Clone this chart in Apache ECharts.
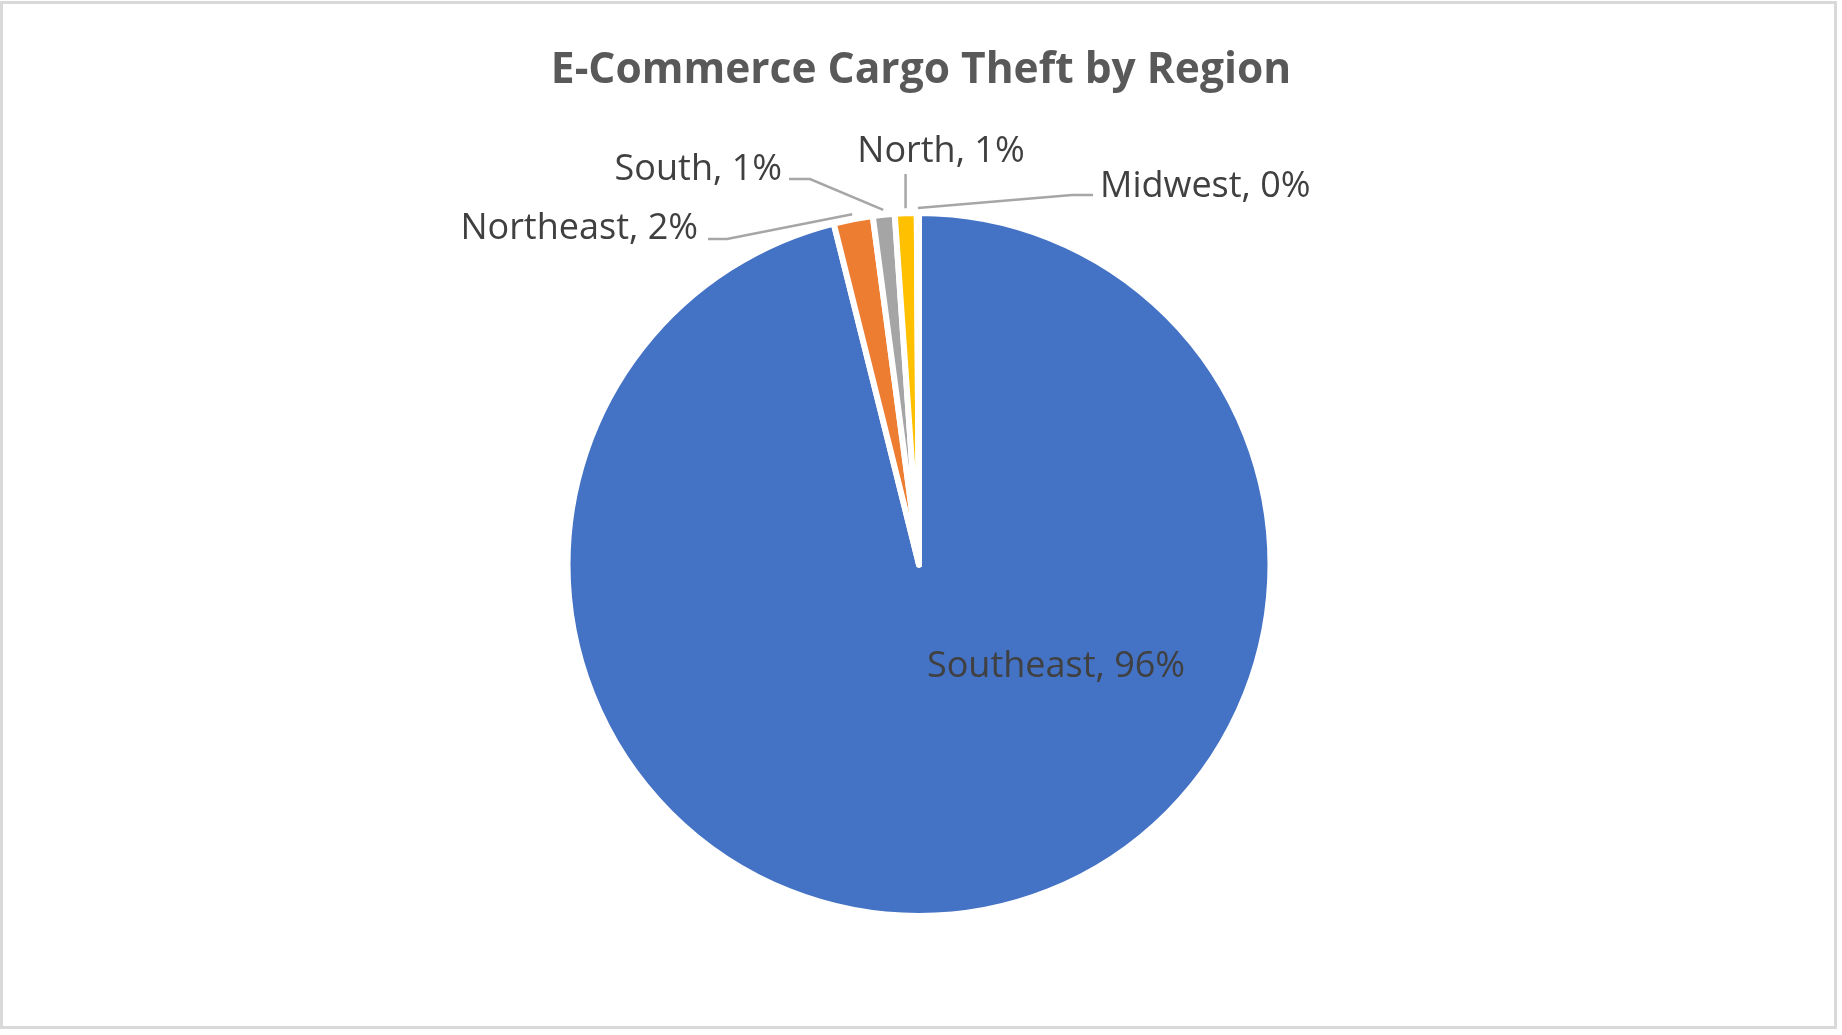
<!DOCTYPE html>
<html>
<head>
<meta charset="utf-8">
<script src="https://cdn.jsdelivr.net/npm/echarts@6/dist/echarts.min.js"></script>
<style>
  html, body { margin: 0; padding: 0; background: #ffffff; }
  #chart { width: 1842px; height: 1035px; }
</style>
</head>
<body>
<div id="chart"></div>
<script>
// ---- data ----
const chartTitle = 'E-Commerce Cargo Theft by Region';
const regions = ['Southeast', 'Northeast', 'South', 'North', 'Midwest'];
const shares = [96.1, 1.8, 1.0, 1.0, 0.1];

// ---- styles / layout (kept apart from data) ----
const sliceColors = ['#4472C4', '#ED7D31', '#A5A5A5', '#FFC000', '#5B9BD5'];
const FONT = '"Open Sans", "Liberation Sans", sans-serif';
const pieCenter = [919, 564.5];
const pieRadius = 351.5;
// label anchor placements (text positions) and leader-line bends
const labelPlacement = {
  Southeast: { x: 1056, y: 667, align: 'center' },
  Northeast: { x: 698, y: 229, align: 'right', bend: [727, 239], end: [708, 239] },
  South:     { x: 782, y: 170, align: 'right', bend: [810, 179], end: [789, 179] },
  North:     { x: 941, y: 152, align: 'center', vertical: 174 },
  Midwest:   { x: 1100, y: 187, align: 'left', bend: [1072, 195], end: [1093, 195] }
};

const chart = echarts.init(document.getElementById('chart'), null, { renderer: 'canvas' });

const pieData = regions.map((name, i) => ({
  name: name,
  value: shares[i],
  itemStyle: { color: sliceColors[i] },
  label: { position: i === 0 ? 'inside' : 'outside' },
  labelLine: { show: i !== 0 }
}));

const option = {
  backgroundColor: '#ffffff',
  animation: false,
  title: {
    text: chartTitle,
    left: 'center',
    top: 48,
    padding: 0,
    textStyle: {
      fontFamily: FONT,
      fontWeight: 'bold',
      fontSize: 42.5,
      lineHeight: 46,
      color: '#595959'
    }
  },
  graphic: [{
    type: 'rect',
    silent: true,
    z: -1,
    shape: { x: 1.5, y: 2.5, width: 1834, height: 1025 },
    style: { fill: 'none', stroke: '#D9D9D9', lineWidth: 3 }
  }],
  series: [{
    type: 'pie',
    center: pieCenter,
    radius: pieRadius,
    startAngle: 90,
    clockwise: true,
    avoidLabelOverlap: false,
    percentPrecision: 0,
    data: pieData,
    itemStyle: { borderColor: '#ffffff', borderWidth: 6 },
    label: {
      formatter: '{b}, {d}%',
      fontFamily: FONT,
      fontSize: 36,
      color: '#404040'
    },
    labelLine: {
      show: true,
      length: 5,
      length2: 5,
      lineStyle: { color: '#A6A6A6', width: 2.5 }
    },
    labelLayout: function (params) {
      const name = regions[params.dataIndex];
      const p = labelPlacement[name];
      const res = { x: p.x, y: p.y, align: p.align, verticalAlign: 'middle' };
      const pts = params.labelLinePoints;
      if (pts && params.dataIndex !== 0) {
        const start = pts[1];
        if (p.vertical !== undefined) {
          res.labelLinePoints = [start, [start[0], p.vertical], [start[0], p.vertical]];
        } else {
          res.labelLinePoints = [start, p.bend, p.end];
        }
      }
      return res;
    }
  }]
};

chart.setOption(option);
</script>
</body>
</html>
